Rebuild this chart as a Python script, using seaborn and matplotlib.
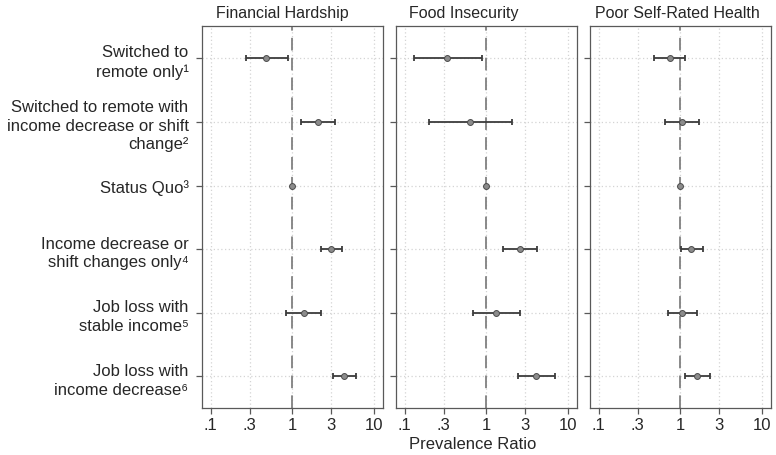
import numpy as np
import pandas as pd
import matplotlib
matplotlib.use("Agg")
import matplotlib.pyplot as plt
import seaborn as sns

# 分组标签 (y轴)
groups = [
    "Switched to\nremote only\u00b9",
    "Switched to remote with\nincome decrease or shift\nchange\u00b2",
    "Status Quo\u00b3",
    "Income decrease or\nshift changes only\u2074",
    "Job loss with\nstable income\u2075",
    "Job loss with\nincome decrease\u2076",
]

outcomes = ["Financial Hardship", "Food Insecurity", "Poor Self-Rated Health"]

# 患病率比 (估计值, 下限, 上限)
fin_pr = [0.48, 2.08, 1.0, 3.03, 1.40, 4.37]
fin_lo = [0.27, 1.29, 1.0, 2.24, 0.85, 3.18]
fin_hi = [0.88, 3.36, 1.0, 4.13, 2.26, 6.00]

food_pr = [0.33, 0.64, 1.0, 2.57, 1.33, 4.08]
food_lo = [0.13, 0.20, 1.0, 1.59, 0.68, 2.43]
food_hi = [0.89, 2.05, 1.0, 4.15, 2.62, 6.99]

health_pr = [0.74, 1.04, 1.0, 1.36, 1.06, 1.60]
health_lo = [0.48, 0.65, 1.0, 1.02, 0.71, 1.15]
health_hi = [1.16, 1.68, 1.0, 1.88, 1.59, 2.29]

x_ticks = [0.1, 0.3, 1, 3, 10]
x_ticklabels = [".1", ".3", "1", "3", "10"]

frames = []
for name, pr, lo, hi in zip(outcomes,
                            [fin_pr, food_pr, health_pr],
                            [fin_lo, food_lo, health_lo],
                            [fin_hi, food_hi, health_hi]):
    frames.append(pd.DataFrame({"outcome": name, "row": range(len(groups)),
                                "pr": pr, "lo": lo, "hi": hi}))
df = pd.concat(frames, ignore_index=True)

sns.set_theme(style="white")
plt.rcParams['font.family'] = ['Liberation Sans', 'DejaVu Sans']

text_color = "#262626"
fig, axes = plt.subplots(1, 3, figsize=(7.76, 4.56), dpi=100, sharey=True)
fig.subplots_adjust(left=0.26, right=0.9932, bottom=0.1024, top=0.94, wspace=0.072)

# 标题水平位置 (原图中并非完全居中)
title_x = [0.445, 0.374, 0.486]

for ax, name, tx in zip(axes, outcomes, title_x):
    sub = df[df["outcome"] == name]
    ax.set_xscale("log")
    ax.set_xlim(10 ** -1.11, 10 ** 1.11)
    ax.set_ylim(len(groups) - 0.5, -0.5)

    # 网格
    for xv in x_ticks:
        ax.axvline(xv, color="#d4d4d4", lw=0.9, ls=(0, (1, 2)), zorder=0)
    for yv in sub["row"]:
        ax.axhline(yv, color="#d4d4d4", lw=0.9, ls=(0, (1, 2)), zorder=0)

    ax.axvline(1, color="#808080", lw=1.3, ls=(0, (7, 4)), zorder=1)

    ci = sub[sub["hi"] > sub["lo"]]
    ax.errorbar(ci["pr"], ci["row"],
                xerr=[ci["pr"] - ci["lo"], ci["hi"] - ci["pr"]],
                fmt="none", ecolor="#3c3c3c", elinewidth=1.3,
                capsize=2.4, capthick=1.3, zorder=2)
    sns.scatterplot(data=sub, x="pr", y="row", ax=ax, s=18,
                    color="#8c8c8c", edgecolor="#4a4a4a", linewidth=0.7,
                    zorder=3, legend=False)

    ax.set_xticks(x_ticks)
    ax.set_xticklabels(x_ticklabels)
    ax.xaxis.set_minor_locator(matplotlib.ticker.NullLocator())
    ax.set_title(name, fontsize=11.5, color=text_color, pad=6.5, x=tx)
    ax.set_xlabel("")
    ax.set_ylabel("")
    ax.tick_params(axis="x", length=4.5, width=0.9, color="#595959",
                   labelsize=12, labelcolor=text_color, pad=2, bottom=True)
    ax.tick_params(axis="y", length=4.5, width=0.9, color="#595959",
                   labelsize=12, labelcolor=text_color, pad=5, left=True)
    for sp in ax.spines.values():
        sp.set_color("#595959")
        sp.set_linewidth(0.9)

axes[0].set_yticks(range(len(groups)))
axes[0].set_yticklabels(groups, ha="right", multialignment="right")
for lab in axes[0].get_yticklabels():
    lab.set_linespacing(1.3)
for ax in axes[1:]:
    ax.tick_params(axis="y", labelleft=False)

axes[1].set_xlabel("Prevalence Ratio", fontsize=12, color=text_color)
axes[1].xaxis.set_label_coords(0.424, -0.072, transform=axes[1].transAxes)
axes[1].xaxis.label.set_va("top")

plt.savefig("out.png", dpi=100)
plt.close()
